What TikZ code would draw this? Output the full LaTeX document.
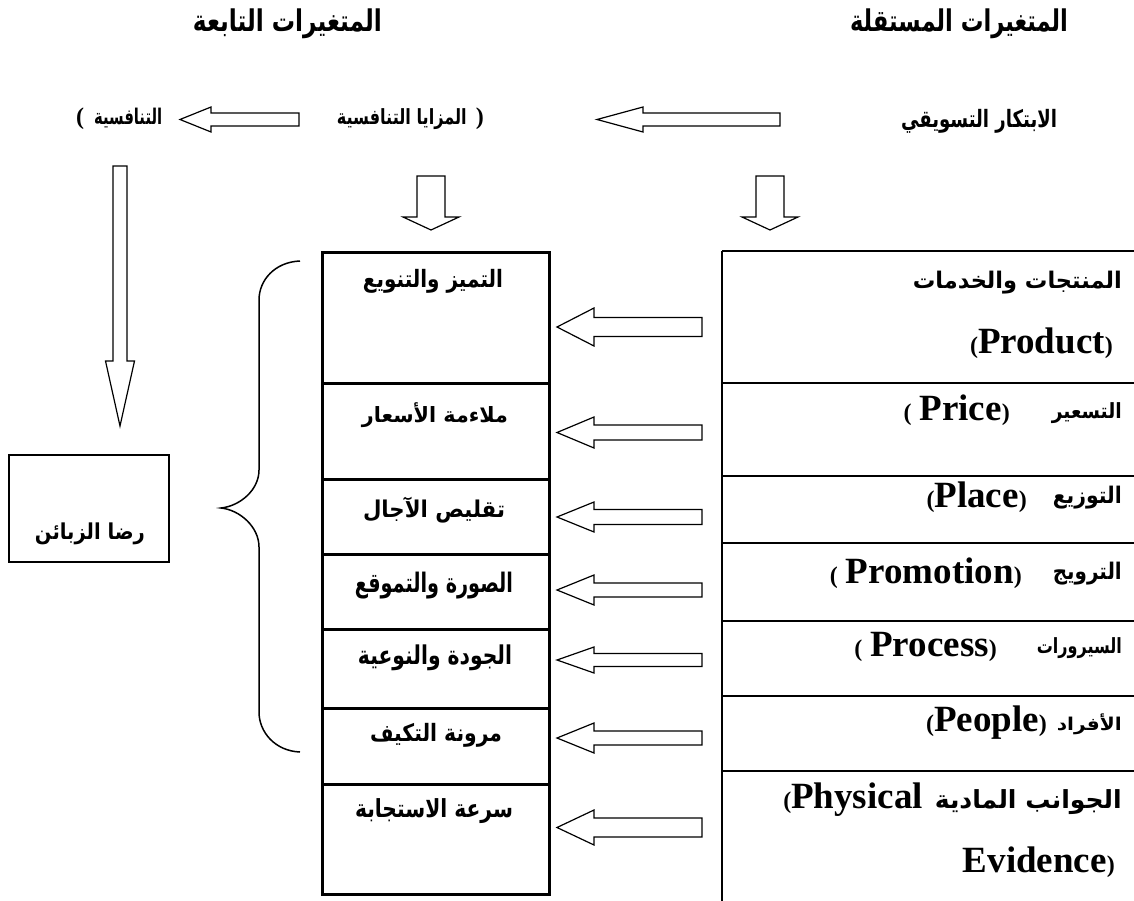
\documentclass[tikz,border=0pt]{standalone}
\usepackage{fontspec}
\usepackage{graphicx}
\setmainfont{Liberation Serif}
\newfontfamily\arabicfont[Script=Arabic]{DejaVu Sans}
\TeXXeTstate=1
\newcommand{\ar}[3]{\resizebox*{#1pt}{#2pt}{\arabicfont\bfseries #3}}
\newcommand{\en}[1]{{\fontsize{37}{40}\selectfont\bfseries #1}}
\newcommand{\pp}[1]{{\fontsize{24}{26}\selectfont\bfseries #1}}
\tikzset{
  tbl/.style={line width=2.6pt},
  cell/.style={draw, line width=2.6pt, inner sep=0pt, anchor=north west},
  arr/.style={draw, line width=1.2pt, line join=miter},
  txt/.style={inner sep=0pt},
  pics/larrow/.style args={#1/#2/#3/#4}{code={
    \draw[arr] (0,0) -- (#2,#3) -- (#2,#4) -- (#1,#4) -- (#1,-#4) -- (#2,-#4) -- (#2,-#3) -- cycle;}},
  pics/darrow/.style args={#1/#2/#3/#4}{code={
    \draw[arr] (0,0) -- (#3,-#2) -- (#4,-#2) -- (#4,-#1) -- (-#4,-#1) -- (-#4,-#2) -- (-#3,-#2) -- cycle;}}
}
\begin{document}
\begin{tikzpicture}[x=1pt,y=-1pt]
\useasboundingbox (0,0) rectangle (1134,901);
% titles
\node[txt] (tind) at (959,24) {\ar{218}{30}{\beginR المتغيرات المستقلة\endR}};
\node[txt] (tdep) at (287.5,24) {\ar{189}{30}{\beginR المتغيرات التابعة\endR}};
% top row
\node[txt] (inno) at (979,121) {\ar{156}{24}{\beginR الابتكار التسويقي\endR}};
\node[txt, anchor=east] (adv) at (484,119) {\ar{130}{21}{\beginR المزايا التنافسية\endR}\hspace{9pt}\pp{)}};
\node[txt, anchor=west] (comp) at (76,119) {\pp{(}\hspace{10pt}\ar{68}{20}{\beginR التنافسية\endR}};
\coordinate (ta1) at (597,119.5);
\pic at (ta1) {larrow={183/46/12.5/6.5}};
\coordinate (ta2) at (180,119.5);
\pic at (ta2) {larrow={119/31/12.5/6.5}};
% down arrows
\coordinate (da1) at (431,230);
\pic at (da1) {darrow={54/13/28/14}};
\coordinate (da2) at (770,230);
\pic at (da2) {darrow={54/13/28/14}};
\coordinate (da3) at (120,426);
\pic at (da3) {darrow={260/65/14.5/7}};
% right table
\draw[tbl] (722,251) -- (722,901);
\foreach \yy in {251,383,476,543,621,696,771} \draw[tbl] (722,\yy) -- (1134,\yy);
\node[txt, anchor=east] (r1a) at (1122,283) {\ar{209}{23}{\beginR المنتجات والخدمات\endR}};
\node[txt, anchor=east] (r1b) at (1113,343) {\pp{(}\en{Product}\pp{)}};
\node[txt, anchor=east] (r2a) at (1122,413) {\ar{70}{21}{\beginR التسعير\endR}};
\node[txt, anchor=east] (r2b) at (1010,410) {\pp{(}\hspace{8pt}\en{Price}\pp{)}};
\node[txt, anchor=east] (r3a) at (1122,498) {\ar{69}{23}{\beginR التوزيع\endR}};
\node[txt, anchor=east] (r3b) at (1027,497) {\pp{(}\en{Place}\pp{)}};
\node[txt, anchor=east] (r4a) at (1122,574) {\ar{69}{23}{\beginR الترويج\endR}};
\node[txt, anchor=east] (r4b) at (1022,573) {\pp{(}\hspace{8pt}\en{Promotion}\pp{)}};
\node[txt, anchor=east] (r5a) at (1122,648) {\ar{85}{21}{\beginR السيرورات\endR}};
\node[txt, anchor=east] (r5b) at (997,647) {\pp{(}\hspace{8pt}\en{Process}\pp{)}};
\node[txt, anchor=east] (r6a) at (1122,724) {\ar{65}{21}{\beginR الأفراد\endR}};
\node[txt, anchor=east] (r6b) at (1047,723) {\pp{(}\en{People}\pp{)}};
\node[txt, anchor=east] (r7a) at (1122,802) {\ar{187}{25}{\beginR الجوانب المادية\endR}};
\node[txt, anchor=east] (r7b) at (923,800) {\pp{(}\en{Physical}};
\node[txt, anchor=east] (r7c) at (1115,862) {\en{Evidence}\pp{)}};
% middle table
\node[cell, minimum width=227pt, minimum height=131pt] (m1) at (321,251) {};
\node[cell, minimum width=227pt, minimum height=96pt] (m2) at (321,382) {};
\node[cell, minimum width=227pt, minimum height=75pt] (m3) at (321,478) {};
\node[cell, minimum width=227pt, minimum height=75pt] (m4) at (321,553) {};
\node[cell, minimum width=227pt, minimum height=79pt] (m5) at (321,628) {};
\node[cell, minimum width=227pt, minimum height=76pt] (m6) at (321,707) {};
\node[cell, minimum width=227pt, minimum height=110pt] (m7) at (321,783) {};
\node[txt] (m1t) at (433,281) {\ar{140}{24}{\beginR التميز والتنويع\endR}};
\node[txt] (m2t) at (435,415) {\ar{146}{25}{\beginR ملاءمة الأسعار\endR}};
\node[txt] (m3t) at (434,510) {\ar{142}{26}{\beginR تقليص الآجال\endR}};
\node[txt] (m4t) at (434,586) {\ar{158}{27}{\beginR الصورة والتموقع\endR}};
\node[txt] (m5t) at (435,658) {\ar{154}{26}{\beginR الجودة والنوعية\endR}};
\node[txt] (m6t) at (436,735) {\ar{132}{24}{\beginR مرونة التكيف\endR}};
\node[txt] (m7t) at (434,811) {\ar{158}{25}{\beginR سرعة الاستجابة\endR}};
% arrows between tables
\coordinate (h1) at (557,327);   \pic at (h1) {larrow={145/37/19/9.5}};
\coordinate (h2) at (557,432.5); \pic at (h2) {larrow={145/37/15.5/7.5}};
\coordinate (h3) at (557,517);   \pic at (h3) {larrow={145/37/15/7.5}};
\coordinate (h4) at (557,590);   \pic at (h4) {larrow={145/37/15/7}};
\coordinate (h5) at (557,660);   \pic at (h5) {larrow={145/37/13/6.5}};
\coordinate (h6) at (557,738);   \pic at (h6) {larrow={145/37/15/7}};
\coordinate (h7) at (557,827.5); \pic at (h7) {larrow={145/37/17.5/9.5}};
% brace
\draw[line width=1.5pt] (300,261) .. controls (275,262) and (259,280) .. (259,300) -- (259,470)
  .. controls (259,490) and (240,506) .. (221,508)
  .. controls (240,510) and (259,527) .. (259,547) -- (259,712)
  .. controls (259,732) and (275,751) .. (300,752);
% customer satisfaction
\node[draw, line width=2pt, minimum width=160pt, minimum height=107pt, inner sep=0pt] (cust) at (89,508.5) {};
\node[txt] (custt) at (90,534) {\ar{110}{22}{\beginR رضا الزبائن\endR}};
\end{tikzpicture}
\end{document}
